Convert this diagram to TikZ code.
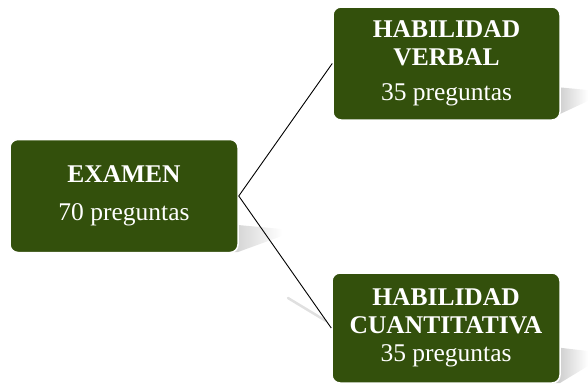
\documentclass[tikz,border=0pt]{standalone}
\usepackage{fontspec}
\setmainfont{Liberation Serif}
\usepackage{tikz}
\usetikzlibrary{positioning,calc}
\definecolor{boxgreen}{RGB}{51,80,12}
\tikzset{
    areabox/.style={rectangle, rounded corners=8pt, fill=boxgreen, draw=white,
        line width=1.5pt, text=white, align=center, inner sep=0pt,
        font=\fontsize{25.5}{28}\selectfont},
    link/.style={draw=black, line width=0.9pt},
    shadowpart/.style={left color=black!28, right color=white}
}
\begin{document}
\begin{tikzpicture}[x=1pt,y=-1pt]
        \useasboundingbox (0,0) rectangle (588,383);
        % shadows
        \shade[shadowpart] (205,222) -- (282,229) -- (282,236) -- (238,252) -- (205,252) -- cycle;
        \shade[shadowpart] (545,86) -- (588,90) -- (588,101) -- (560,114) -- (545,114) -- cycle;
        \shade[shadowpart] (545,346) -- (588,351) -- (588,366) -- (560,383) -- (545,383) -- cycle;
        \draw[black!12, line width=2.5pt, line cap=round] (288,298) -- (326,321);
        % boxes
        \node[areabox, minimum width=228pt, minimum height=113pt] (exam) at (124,196)
            {\textbf{EXAMEN}\\[10pt]70 preguntas};
        \node[areabox, minimum width=227pt, minimum height=113pt] (verbal) at (446.5,63.5)
            {\textbf{HABILIDAD}\\\textbf{VERBAL}\\[7pt]35 preguntas};
        \node[areabox, minimum width=228pt, minimum height=110pt] (cuant) at (446,328)
            {\textbf{HABILIDAD}\\\textbf{CUANTITATIVA}\\35 preguntas};
        % connectors
        \draw[link] (exam.east) -- (verbal.west);
        \draw[link] (exam.east) -- (cuant.west);
    \end{tikzpicture}
\end{document}
